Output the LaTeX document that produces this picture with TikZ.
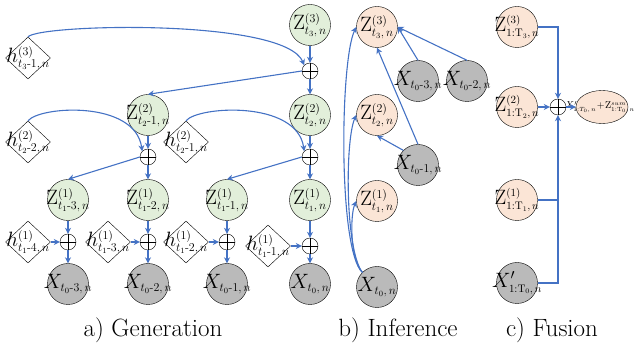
\documentclass[tikz,border=0pt]{standalone}
\usetikzlibrary{shapes.geometric,arrows.meta}
\definecolor{zgreen}{RGB}{226,239,218}
\definecolor{zsalmon}{RGB}{251,229,214}
\definecolor{xgray}{RGB}{186,186,186}
\definecolor{ablue}{RGB}{68,114,196}
\newcommand\sbx[1]{\mbox{\fontsize{12}{13}\selectfont$#1$}}
\newcommand\sbf[1]{\mbox{\fontsize{10.5}{12}\selectfont$#1$}}
\newcommand\sbe[1]{\mbox{\fontsize{6.5}{7}\selectfont$#1$}}
\newcommand\hy{\mbox{-}}
\newcommand\Zlab[2]{\makebox[0pt][c]{$\mathrm{Z}^{\sbx{(#1)}}_{\sbx{#2}}$}}
\newcommand\Zfus[2]{\makebox[0pt][c]{$\mathrm{Z}^{\sbf{(#1)}}_{\sbf{#2}}$}}
\newcommand\hlab[2]{\makebox[0pt][c]{$h^{\sbx{(#1)}}_{\sbx{#2}}$}}
\newcommand\Xlab[1]{\makebox[0pt][c]{$X_{\sbx{#1}}$}}
\begin{document}
\begin{tikzpicture}[x=1pt,y=-1pt,
  every node/.style={font=\fontsize{22}{25}\selectfont},
  gz/.style={circle,draw,fill=zgreen,minimum size=41pt,inner sep=0pt},
  sz/.style={circle,draw,fill=zsalmon,minimum size=41pt,inner sep=0pt},
  xn/.style={circle,draw,fill=xgray,minimum size=41pt,inner sep=0pt},
  hd/.style={diamond,draw,fill=white,minimum width=45pt,minimum height=42pt,inner sep=0pt},
  ht/.style={inner sep=0pt,font=\fontsize{20}{22}\selectfont},
  op/.style={circle,draw,fill=white,minimum size=16pt,inner sep=0pt,
    path picture={\draw (path picture bounding box.north)--(path picture bounding box.south)
      (path picture bounding box.west)--(path picture bounding box.east);}},
  arr/.style={draw=ablue,line width=1.1pt,-{Stealth[length=6pt,width=6pt]}},
  ln/.style={draw=ablue,line width=1.1pt},
  captxt/.style={font=\fontsize{25}{28}\selectfont}]
\useasboundingbox (0,0) rectangle (637,352);

% ---------- a) Generation ----------
\node[gz] (Z3) at (310,25) {\Zlab{3}{t_3,n}};
\node[op] (o3) at (310,71) {};
\node[hd] (h3) at (28,58) {};
\node[ht] (h3t) at (h3) {\hlab{3}{t_3\hy1,n}};

\node[gz] (Z2a) at (148,115) {\Zlab{2}{t_2\hy1,n}};
\node[gz] (Z2b) at (310,115) {\Zlab{2}{t_2,n}};
\node[hd] (h2a) at (28,142) {};
\node[ht] (h2at) at (h2a) {\hlab{2}{t_2\hy2,n}};
\node[hd] (h2b) at (186,142) {};
\node[ht] (h2bt) at (h2b) {\hlab{2}{t_2\hy1,n}};
\node[op] (o2a) at (148,157) {};
\node[op] (o2b) at (310,157) {};

\node[gz] (Z1a) at (68,200) {\Zlab{1}{t_1\hy3,n}};
\node[gz] (Z1b) at (148,200) {\Zlab{1}{t_1\hy2,n}};
\node[gz] (Z1c) at (227,200) {\Zlab{1}{t_1\hy1,n}};
\node[gz] (Z1d) at (310,200) {\Zlab{1}{t_1,n}};

\node[op] (o1a) at (68,242) {};
\node[op] (o1b) at (148,242) {};
\node[op] (o1c) at (227,242) {};
\node[op] (o1d) at (310,246) {};
\node[hd] (h1a) at (28,242) {};
\node[ht] (h1at) at (h1a) {\hlab{1}{t_1\hy4,n}};
\node[hd] (h1b) at (108,242) {};
\node[ht] (h1bt) at (h1b) {\hlab{1}{t_1\hy3,n}};
\node[hd] (h1c) at (186,242) {};
\node[ht] (h1ct) at (h1c) {\hlab{1}{t_1\hy2,n}};
\node[hd] (h1d) at (268,246) {};
\node[ht] (h1dt) at (h1d) {\hlab{1}{t_1\hy1,n}};

\node[xn] (Xa) at (68,284) {\Xlab{t_0\hy3,n}};
\node[xn] (Xb) at (148,284) {\Xlab{t_0\hy2,n}};
\node[xn] (Xc) at (227,284) {\Xlab{t_0\hy1,n}};
\node[xn] (Xd) at (310,284) {\Xlab{t_0,n}};

\draw[arr] (h3.north) .. controls (40,24) and (285,18) .. (o3.north west);
\draw[arr] (Z3) -- (o3);
\draw[arr] (o3.west) -- (Z2a.north);
\draw[arr] (o3) -- (Z2b);
\draw[arr] (h2a.north) .. controls (40,106) and (135,100) .. (o2a.north west);
\draw[arr] (h2b.north) .. controls (198,106) and (297,100) .. (o2b.north west);
\draw[arr] (Z2a) -- (o2a);
\draw[arr] (Z2b) -- (o2b);
\draw[arr] (o2a.west) -- (Z1a.north);
\draw[arr] (o2a) -- (Z1b);
\draw[arr] (o2b.west) -- (Z1c.north);
\draw[arr] (o2b) -- (Z1d);
\foreach \s in {a,b,c,d}{
  \draw[arr] (Z1\s) -- (o1\s);
  \draw[arr] (h1\s.east) -- (o1\s.west);
  \draw[arr] (o1\s) -- (X\s);
}
\node[captxt] (capa) at (153,330) {a) Generation};

% ---------- b) Inference ----------
\node[sz] (Zi3) at (377,27) {\Zlab{3}{t_3,n}};
\node[xn] (Xi3) at (418,81) {\Xlab{t_0\hy3,n}};
\node[xn] (Xi2) at (467,81) {\Xlab{t_0\hy2,n}};
\node[sz] (Zi2) at (377,115) {\Zlab{2}{t_2,n}};
\node[xn] (Xi1) at (418,165) {\Xlab{t_0\hy1,n}};
\node[sz] (Zi1) at (377,201) {\Zlab{1}{t_1,n}};
\node[xn] (Xi0) at (377,287) {\Xlab{t_0,n}};

\draw[arr] (Xi0.north west) .. controls (338,250) and (340,60) .. (Zi3.west);
\draw[arr] (Xi0.north west) .. controls (345,250) and (345,140) .. (Zi2.west);
\draw[arr] (Xi0.north west) .. controls (350,260) and (350,215) .. (Zi1.west);
\draw[arr] (Xi3.north) -- (Zi3.east);
\draw[arr] (Xi2.north) -- (Zi3.east);
\draw[arr] (Xi1.north) -- (Zi3.south);
\draw[arr] (Xi1.north west) -- (Zi2.south);
\node[captxt] (capb) at (398,330) {b) Inference};

% ---------- c) Fusion ----------
\node[sz] (Zf3) at (517,27) {\Zfus{3}{\mathrm{1{:}T}_3,n}};
\node[sz] (Zf2) at (517,107) {\Zfus{2}{\mathrm{1{:}T}_2,n}};
\node[sz] (Zf1) at (517,200) {\Zfus{1}{\mathrm{1{:}T}_1,n}};
\node[xn] (Xf) at (517,283) {\makebox[0pt][c]{$X'_{\sbf{\mathrm{1{:}T}_0,n}}$}};
\node[op] (of) at (558,107) {};
\node[ellipse,draw,fill=zsalmon,minimum width=52pt,minimum height=33pt,inner sep=0pt] (ef) at (602,107) {};
\node[inner sep=0pt,font=\fontsize{10}{11}\selectfont] (eft) at (600,107)
  {\makebox[0pt][c]{$X'_{\sbe{1{:}T_0,n}}\!+\!\mathrm{Z}^{\sbe{sum}}_{\sbe{\mathrm{1{:}T}_0,n}}$}};

\draw[arr] (Zf3.east) -- (of |- Zf3) -- (of.north);
\draw[arr] (Zf2) -- (of);
\draw[ln] (Zf1.east) -- (of |- Zf1);
\draw[arr] (Xf.east) -- (of |- Xf) -- (of.south);
\draw[arr] (of) -- (ef);
\node[captxt] (capc) at (552,330) {c) Fusion};
\end{tikzpicture}
\end{document}
